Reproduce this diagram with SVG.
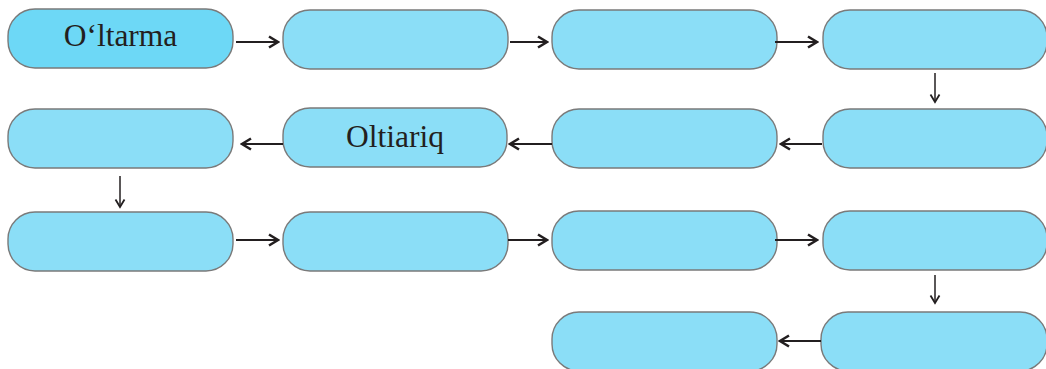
<svg xmlns="http://www.w3.org/2000/svg" width="1046" height="369" viewBox="0 0 1046 369">
<defs>
<style>
.box{fill:#8bdef7;stroke:#7a7a7a;stroke-width:1.4}
.first{fill:#6dd8f6}
.lbl{font-family:"Liberation Serif","Times New Roman",serif;font-size:31.5px;fill:#231f20;text-anchor:middle}
.arr{stroke:#231f20;stroke-width:2.2;fill:none;marker-end:url(#ah)}
.varr{stroke:#231f20;stroke-width:1.5;fill:none;marker-end:url(#vh)}
</style>
<marker id="ah" viewBox="0 0 14 14" refX="12" refY="7" markerWidth="14" markerHeight="14" markerUnits="userSpaceOnUse" orient="auto">
<path d="M3,1.5 L12,7 L3,12.5" fill="none" stroke="#231f20" stroke-width="2.6"/>
</marker>
<marker id="vh" viewBox="0 0 12 12" refX="10.5" refY="6" markerWidth="12" markerHeight="12" markerUnits="userSpaceOnUse" orient="auto">
<path d="M3,1.5 L10.5,6 L3,10.5" fill="none" stroke="#231f20" stroke-width="1.8"/>
</marker>
</defs>
<rect width="1046" height="369" fill="#ffffff"/>
<g id="n1"><rect class="box first" x="8" y="9" width="225" height="59" rx="27"/><text class="lbl" x="120.5" y="46">O‘ltarma</text></g>
<g id="n2"><rect class="box" x="283" y="10" width="225" height="59" rx="27"/></g>
<g id="n3"><rect class="box" x="552" y="10" width="225" height="59" rx="27"/></g>
<g id="n4"><rect class="box" x="823" y="10" width="224" height="59" rx="27"/></g>
<g id="n5"><rect class="box" x="823" y="109" width="224" height="59" rx="27"/></g>
<g id="n6"><rect class="box" x="552" y="109" width="225" height="59" rx="27"/></g>
<g id="n7"><rect class="box" x="283" y="108" width="224" height="59" rx="27"/><text class="lbl" x="395" y="147">Oltiariq</text></g>
<g id="n8"><rect class="box" x="8" y="109" width="225" height="59" rx="27"/></g>
<g id="n9"><rect class="box" x="8" y="212" width="225" height="59" rx="27"/></g>
<g id="n10"><rect class="box" x="283" y="212" width="225" height="59" rx="27"/></g>
<g id="n11"><rect class="box" x="552" y="211" width="225" height="59" rx="27"/></g>
<g id="n12"><rect class="box" x="823" y="211" width="224" height="59" rx="27"/></g>
<g id="n13"><rect class="box" x="821" y="312" width="226" height="59" rx="27"/></g>
<g id="n14"><rect class="box" x="552" y="312" width="225" height="59" rx="27"/></g>
<g id="connectors">
<line class="arr" x1="236" y1="42" x2="278" y2="42"/>
<line class="arr" x1="510" y1="42" x2="547" y2="42"/>
<line class="arr" x1="775" y1="42" x2="817" y2="42"/>
<line class="varr" x1="935" y1="73" x2="935" y2="102"/>
<line class="arr" x1="822" y1="144" x2="781" y2="144"/>
<line class="arr" x1="552" y1="144" x2="510" y2="144"/>
<line class="arr" x1="283" y1="144" x2="242" y2="144"/>
<line class="varr" x1="120" y1="176" x2="120" y2="207"/>
<line class="arr" x1="236" y1="240" x2="278" y2="240"/>
<line class="arr" x1="508" y1="240" x2="547" y2="240"/>
<line class="arr" x1="775" y1="240" x2="817" y2="240"/>
<line class="varr" x1="935" y1="275" x2="935" y2="303"/>
<line class="arr" x1="821" y1="341" x2="780" y2="341"/>
</g>
</svg>
